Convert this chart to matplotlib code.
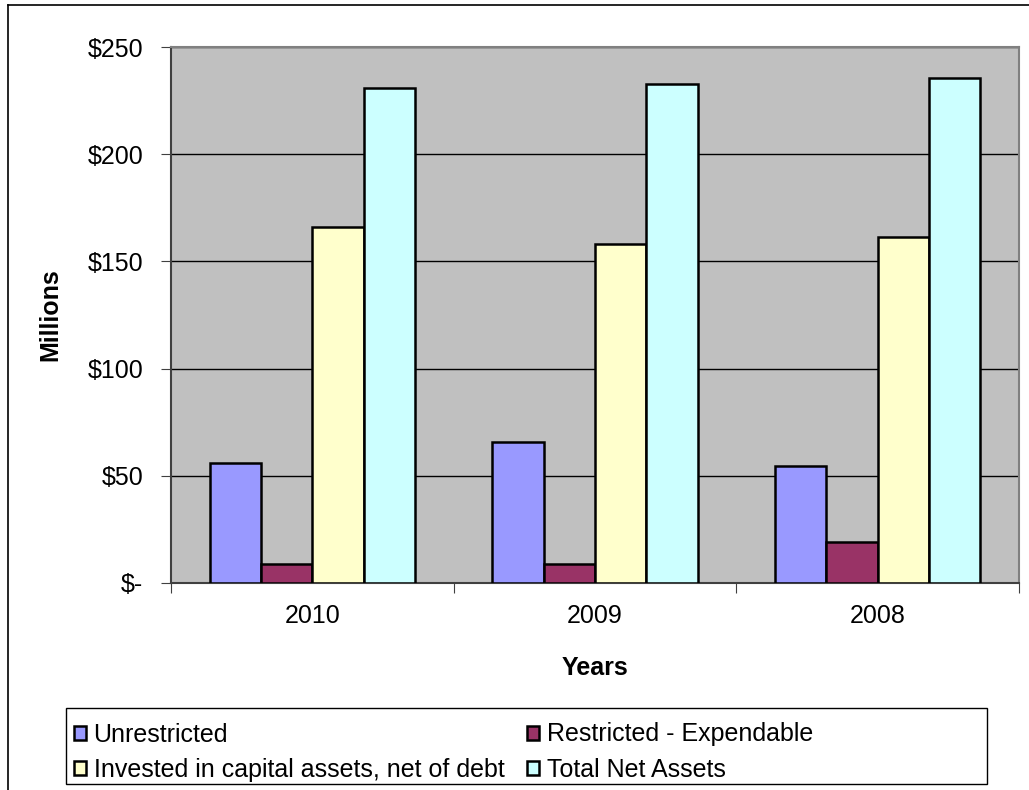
import matplotlib.pyplot as plt
import numpy as np
from matplotlib.patches import Rectangle
from matplotlib.lines import Line2D

plt.rcParams['font.family'] = ['Liberation Sans', 'DejaVu Sans']

years = ['2010', '2009', '2008']
series = ['Unrestricted', 'Restricted - Expendable',
          'Invested in capital assets, net of debt', 'Total Net Assets']
unrestricted = [56.1, 65.6, 54.7]
restricted = [8.9, 8.9, 19.0]
invested = [165.9, 158.0, 161.4]
total = [231.0, 232.6, 235.7]
colors = ['#9999FF', '#993366', '#FFFFCC', '#CCFFFF']
yticks = [0, 50, 100, 150, 200, 250]
ytick_labels = ['$-', '$50', '$100', '$150', '$200', '$250']

fs = 18

fig = plt.figure(figsize=(10.29, 7.90), dpi=100)
ax = fig.add_axes([171/1029, 1 - 583/790, (1019 - 171)/1029, (583 - 47)/790])
ax.set_facecolor('#C0C0C0')

x = np.arange(len(years))
w = 1 / 5.5
vals = [unrestricted, restricted, invested, total]
for i, v in enumerate(vals):
    ax.bar(x + (i - 1.5) * w, v, w, color=colors[i], edgecolor='black',
           linewidth=1.8, label=series[i], zorder=3)

ax.set_xlim(-0.5, 2.5)
ax.set_ylim(0, 250)
ax.set_yticks(yticks)
ax.set_yticklabels(ytick_labels, fontsize=fs)
ax.yaxis.grid(True, color='black', linewidth=1, zorder=1)
ax.set_axisbelow(True)

ax.set_xticks([-0.5, 0.5, 1.5, 2.5])
ax.set_xticklabels([])
ax.set_xticks(x, minor=True)
ax.set_xticklabels(years, minor=True, fontsize=fs)
ax.tick_params(axis='x', which='minor', length=0, pad=15)
ax.tick_params(axis='x', which='major', length=7, color='#404040')
ax.tick_params(axis='y', length=7, color='#404040', pad=13)

for s in ['top', 'right']:
    ax.spines[s].set_color('#808080')
    ax.spines[s].set_linewidth(1.5)
for s in ['left', 'bottom']:
    ax.spines[s].set_color('#404040')
    ax.spines[s].set_linewidth(1.5)

ax.set_xlabel('Years', fontsize=fs, fontweight='bold', labelpad=20)
ax.set_ylabel('Millions', fontsize=fs, fontweight='bold', labelpad=18)

# legend box drawn separately so it can be wider than the entries
fig.add_artist(Rectangle((66/1029, 1 - 784/790), (987 - 66)/1029, (784 - 708)/790,
                         transform=fig.transFigure, facecolor='white',
                         edgecolor='black', linewidth=1))
handles, labels = ax.get_legend_handles_labels()
order = [0, 2, 1, 3]
fig.legend([handles[i] for i in order], [labels[i] for i in order],
           ncol=2, loc='upper left', bbox_to_anchor=(56/1029, 1 - 705/790),
           frameon=False, fontsize=fs, handlelength=0.5, handleheight=0.5,
           handletextpad=0.3, columnspacing=0.9, labelspacing=0.45,
           borderpad=0.2)

# outer chart border (left and top)
fig.add_artist(Line2D([8/1029, 8/1029], [0, 1 - 5/790], transform=fig.transFigure,
                      color='black', linewidth=1.2))
fig.add_artist(Line2D([8/1029, 1], [1 - 5/790, 1 - 5/790], transform=fig.transFigure,
                      color='black', linewidth=1.2))

fig.savefig('out.png', dpi=100)
